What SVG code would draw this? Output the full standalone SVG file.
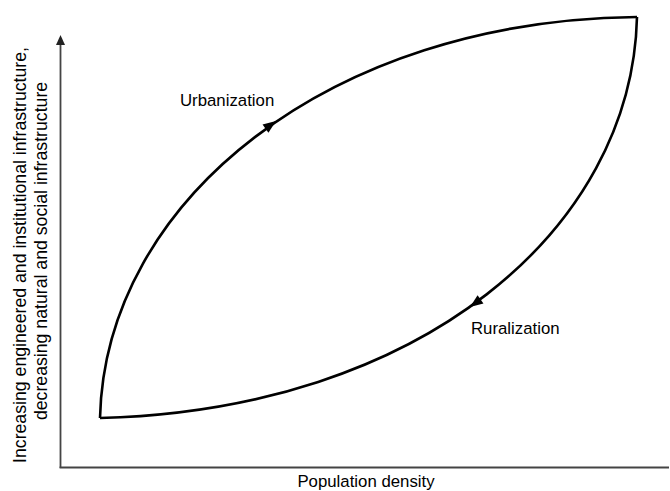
<svg xmlns="http://www.w3.org/2000/svg" width="670" height="491" viewBox="0 0 670 491">
<style>
.lbl{font-family:"Liberation Sans",Arial,sans-serif;font-size:16.8px;fill:#000}
.ylbl{font-family:"Liberation Sans",Arial,sans-serif;font-size:17.7px;fill:#000;text-anchor:middle}
.curve{fill:none;stroke:#000;stroke-width:2.6;stroke-linejoin:miter}
.axis{fill:none;stroke:#444;stroke-width:1.8}
.head{fill:#000}
</style>
<rect width="670" height="491" fill="#fff"/>
<g id="axes">
<path class="axis" d="M60.5,468 V42"/>
<path class="axis" d="M59.6,467.5 H669"/>
<polygon fill="#222" points="60.5,35 56,45 65,45"/>
</g>
<g id="connectors">
<path id="urbanization-curve" class="curve" d="M100,418 C105,200 330,20 637,17"/>
<path id="ruralization-curve" class="curve" d="M637,17 C632,230 420,410 100,418"/>
<polygon class="head" points="0,0 -13,-5 -13,5" transform="translate(276,121) rotate(-36)"/>
<polygon class="head" points="0,0 -13,-5 -13,5" transform="translate(470,307) rotate(144)"/>
</g>
<g id="label-urbanization"><text class="lbl" x="180" y="106">Urbanization</text></g>
<g id="label-ruralization"><text class="lbl" x="471" y="334">Ruralization</text></g>
<g id="label-x"><text class="lbl" x="366" y="487" text-anchor="middle">Population density</text></g>
<g id="label-y">
<text class="ylbl" transform="translate(26,255) rotate(-90)">Increasing engineered and institutional infrastructure,</text>
<text class="ylbl" transform="translate(47,251) rotate(-90)">decreasing natural and social infrastructure</text>
</g>
</svg>
